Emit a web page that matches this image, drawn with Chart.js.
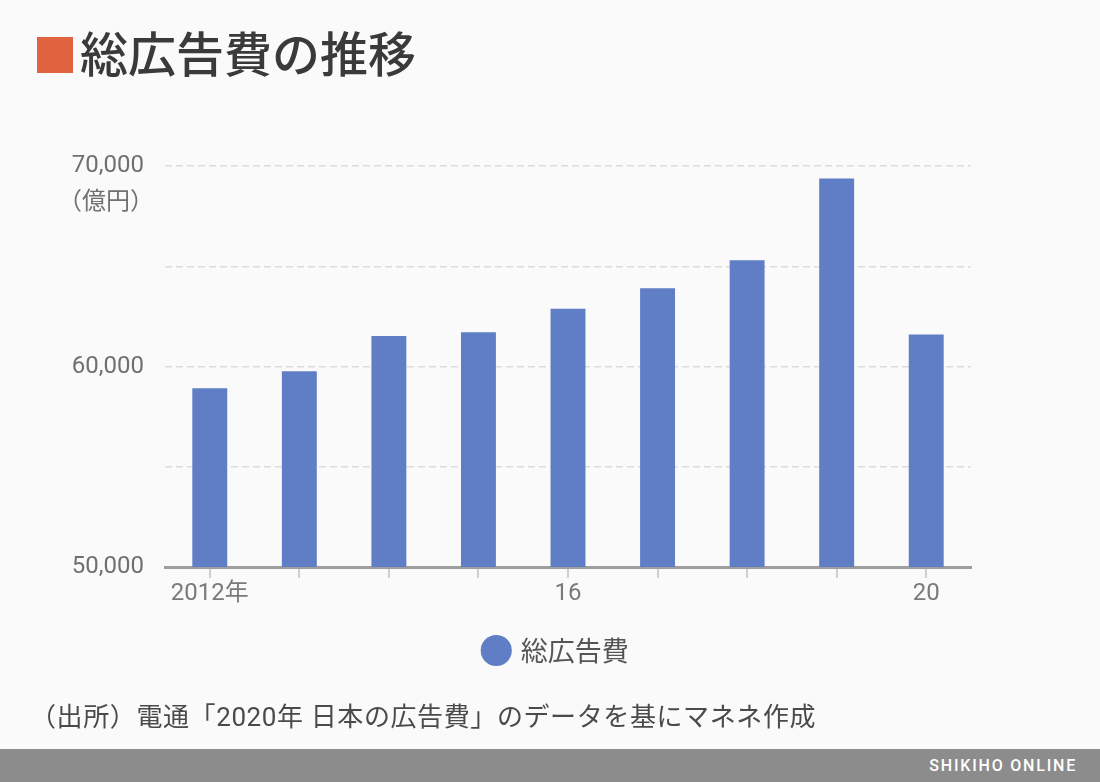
<!DOCTYPE html>
<html lang="ja">
<head>
<meta charset="utf-8">
<script src="https://cdn.jsdelivr.net/npm/chart.js@4/dist/chart.umd.min.js"></script>
<style>
  html, body { margin: 0; padding: 0; }
  body {
    width: 1100px; height: 782px; overflow: hidden; position: relative;
    background: #fafafa;
    font-family: Roboto, "Noto Sans CJK JP", sans-serif;
  }
  #title {
    position: absolute; left: 37px; top: 21px;
    font-family: "Noto Sans CJK JP", sans-serif;
    font-size: 48px; font-weight: 500; color: #3a3a3a; line-height: 60px;
  }
  #title .sq {
    display: inline-block; width: 36px; height: 36px; background: #e0623f;
    vertical-align: top; margin-top: 16px; margin-right: 7px;
  }
  #unit {
    position: absolute; left: 58px; top: 181px;
    font-family: "Noto Sans CJK JP", sans-serif; font-size: 24px; color: #707070;
  }
  #note {
    position: absolute; left: 30px; top: 700px;
    font-family: Roboto, "Noto Sans CJK JP", sans-serif;
    font-size: 26px; letter-spacing: 0.6px; color: #4a4a4a; line-height: 34px;
  }
  #footer {
    position: absolute; left: 0; top: 749px; width: 1100px; height: 33px; background: #8c8c8c;
  }
  #footer span {
    position: absolute; right: 23px; top: 7px;
    font-family: Roboto, sans-serif; font-size: 16px; font-weight: 500;
    color: #fff; letter-spacing: 1.8px;
  }
  #wrap { position: absolute; left: 0; top: 0; width: 1100px; height: 782px; }
</style>
</head>
<body>
<div id="wrap"><canvas id="chart"></canvas></div>
<div id="title"><span class="sq"></span>総広告費の推移</div>
<div id="unit">（億円）</div>
<div id="note">（出所）電通「2020年 日本の広告費」のデータを基にマネネ作成</div>
<div id="footer"><span>SHIKIHO ONLINE</span></div>
<script>
// 総広告費 (億円), 2012-2020
const years = ['2012年', '', '', '', '16', '', '', '', '20'];
const adSpend = [58913, 59762, 61522, 61710, 62880, 63907, 65300, 69381, 61594];
const yLabels = [50000, 60000, 70000];

const barColor = '#5f7ec6';

const chart = new Chart(document.getElementById('chart'), {
  type: 'bar',
  data: {
    labels: years,
    datasets: [{
      label: '総広告費',
      data: adSpend,
      backgroundColor: barColor,
      borderWidth: 0,
      categoryPercentage: 1,
      barPercentage: 0.39
    }]
  },
  options: {
    responsive: true,
    maintainAspectRatio: false,
    animation: false,
    layout: { padding: { left: 14, right: 0, top: 166, bottom: 108 } },
    plugins: {
      tooltip: { enabled: false },
      legend: {
        position: 'bottom',
        labels: {
          usePointStyle: true,
          pointStyle: 'circle',
          boxWidth: 22,
          boxHeight: 22,
          padding: 10,
          color: '#555',
          font: { family: '"Noto Sans CJK JP", sans-serif', size: 27 }
        }
      }
    },
    scales: {
      x: {
        grid: {
          offset: false,
          drawOnChartArea: false,
          drawTicks: true,
          tickLength: 11,
          color: '#cfcfcf',
          lineWidth: 2
        },
        border: { display: true, color: '#9e9e9e', width: 3 },
        ticks: {
          autoSkip: false,
          maxRotation: 0,
          padding: 2,
          color: '#7a7a7a',
          font: { family: 'Roboto, "Noto Sans CJK JP", sans-serif', size: 24 }
        },
        afterFit(scale) { scale.height = 60; }
      },
      y: {
        min: 50000,
        max: 70000,
        grid: {
          color: '#dcdcdc',
          lineWidth: 1.5,
          drawTicks: false
        },
        border: { display: false, dash: [7, 4] },
        ticks: {
          stepSize: 5000,
          padding: 21,
          color: '#707070',
          font: { family: 'Roboto, sans-serif', size: 24 },
          callback: (v) => yLabels.includes(v) ? v.toLocaleString('en-US') : ''
        },
        afterFit(scale) { scale.width = 151; }
      },
      spacer: {
        type: 'linear',
        position: 'right',
        display: true,
        grid: { display: false },
        border: { display: false },
        ticks: { display: false },
        afterFit(scale) { scale.width = 129; }
      }
    }
  }
});
</script>
</body>
</html>
